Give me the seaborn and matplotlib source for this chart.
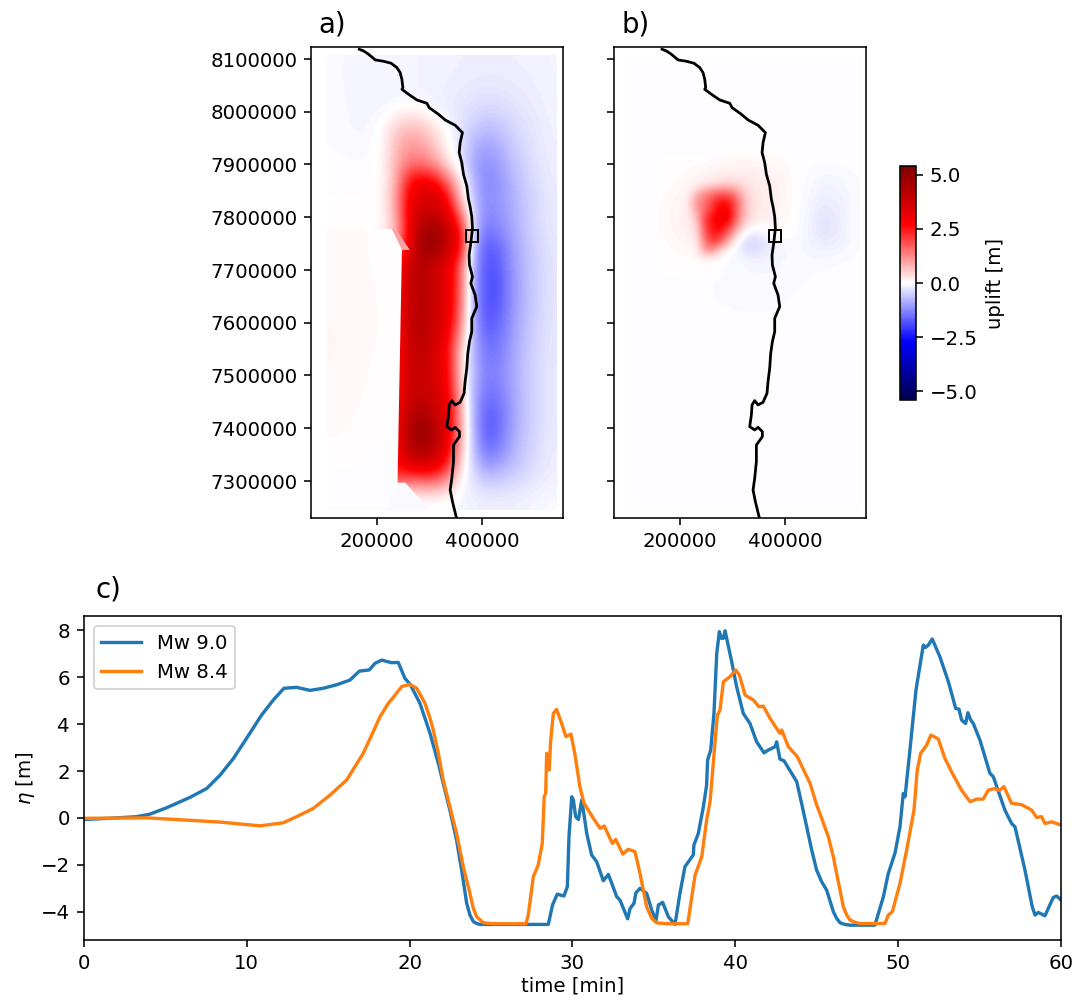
import numpy as np
import seaborn as sns
import matplotlib.pyplot as plt
from matplotlib.patches import Polygon

# Time series at the observation point
time_90 = [0, 1.82, 3.25, 4.07, 5.09, 6.52, 7.55, 8.37, 9.19, 10.0, 10.92, 11.64, 12.29, 13.07, 13.89, 14.71, 15.53, 16.35, 16.92, 17.53, 17.88, 18.29, 18.9, 19.31, 19.72, 20.03, 20.64, 21.26, 21.77, 22.07, 22.48, 22.89, 23.2, 23.51, 23.71, 23.92, 24.12, 24.32, 28.52, 28.78, 29.07, 29.48, 29.69, 29.79, 29.96, 30.06, 30.2, 30.37, 30.57, 30.67, 30.88, 31.18, 31.49, 31.9, 32.21, 32.72, 32.92, 33.39, 33.54, 33.78, 33.9, 34.15, 34.56, 34.87, 35.13, 35.28, 35.54, 35.89, 36.3, 36.6, 36.91, 37.42, 37.46, 37.73, 38.04, 38.24, 38.3, 38.49, 38.69, 38.86, 39.02, 39.14, 39.27, 39.37, 39.78, 40.08, 40.49, 40.9, 41.31, 41.76, 42.03, 42.44, 42.54, 42.74, 42.99, 43.77, 44.07, 44.38, 44.69, 44.99, 45.3, 45.61, 46.02, 46.22, 46.43, 46.73, 47.04, 48.57, 49.09, 49.39, 49.8, 50.11, 50.31, 50.42, 50.72, 51.09, 51.54, 51.68, 51.85, 52.09, 52.56, 53.08, 53.53, 53.73, 53.89, 54.14, 54.28, 54.45, 54.61, 55.02, 55.63, 55.84, 56.55, 56.96, 57.17, 57.78, 58.23, 58.4, 58.6, 59.01, 59.52, 59.73, 60]
eta_90 = [-0.07, -0.01, 0.05, 0.16, 0.43, 0.87, 1.25, 1.82, 2.53, 3.39, 4.38, 5.02, 5.52, 5.56, 5.43, 5.52, 5.67, 5.87, 6.25, 6.3, 6.58, 6.72, 6.61, 6.62, 5.94, 5.7, 4.88, 3.6, 2.32, 1.47, 0.33, -0.95, -2.22, -3.64, -4.14, -4.42, -4.5, -4.54, -4.54, -3.71, -3.25, -3.33, -2.93, -0.8, 0.9, 0.76, 0.05, -0.07, 0.76, 0.33, -0.66, -1.58, -1.87, -2.68, -2.41, -3.36, -3.5, -4.3, -3.86, -3.64, -3.19, -3.0, -3.22, -3.93, -4.38, -3.71, -3.6, -4.21, -4.54, -3.22, -2.08, -1.58, -1.16, -0.66, 0.47, 1.4, 2.46, 2.89, 4.45, 7.0, 7.93, 7.65, 7.65, 7.97, 6.65, 5.59, 4.45, 4.02, 3.24, 2.77, 2.89, 3.03, 3.24, 2.5, 2.43, 1.54, 0.62, -0.38, -1.37, -2.22, -2.72, -3.08, -4.0, -4.28, -4.47, -4.54, -4.57, -4.57, -3.36, -2.37, -1.51, -0.38, 1.04, 0.9, 2.89, 5.44, 7.36, 7.26, 7.36, 7.62, 6.86, 5.8, 4.66, 4.63, 4.17, 4.02, 4.48, 4.17, 4.02, 3.31, 1.9, 1.75, 0.33, -0.24, -0.38, -2.22, -3.79, -4.14, -4.03, -4.17, -3.39, -3.33, -3.5]

time_84 = [0, 3.87, 5.91, 8.37, 10.82, 12.25, 13.07, 14.09, 15.12, 16.14, 16.65, 17.16, 17.68, 18.19, 18.7, 19.0, 19.52, 20.03, 20.44, 20.95, 21.26, 21.46, 21.77, 22.07, 22.48, 22.89, 23.3, 23.71, 23.92, 24.12, 24.53, 25.14, 27.15, 27.29, 27.6, 27.9, 28.15, 28.27, 28.36, 28.42, 28.58, 28.66, 28.83, 29.03, 29.34, 29.6, 29.91, 30.16, 30.46, 30.71, 31.29, 31.7, 31.96, 32.45, 32.66, 33.09, 33.43, 33.84, 34.15, 34.56, 34.87, 35.17, 35.79, 37.08, 37.53, 37.94, 38.24, 38.45, 38.75, 38.9, 39.06, 39.27, 39.67, 40.02, 40.25, 40.6, 41.11, 41.45, 41.72, 42.13, 42.74, 42.85, 43.26, 43.81, 44.59, 44.99, 45.34, 45.71, 46.02, 46.22, 46.43, 46.63, 46.84, 47.04, 47.35, 47.65, 49.19, 49.39, 49.64, 50.11, 50.52, 50.97, 51.17, 51.38, 51.75, 52.01, 52.46, 52.87, 53.38, 53.89, 54.41, 54.82, 55.22, 55.53, 55.94, 56.21, 56.49, 56.96, 57.58, 58.19, 58.5, 58.8, 59.01, 59.42, 60]
eta_84 = [-0.02, 0.0, -0.08, -0.18, -0.34, -0.21, 0.05, 0.4, 0.97, 1.61, 2.18, 2.75, 3.53, 4.31, 4.88, 5.13, 5.59, 5.69, 5.52, 4.88, 4.24, 3.74, 2.75, 1.61, 0.47, -0.66, -2.08, -3.22, -3.86, -4.21, -4.47, -4.51, -4.51, -4.14, -2.51, -2.01, -1.09, 0.9, 1.04, 2.75, 2.04, 3.24, 4.45, 4.62, 4.02, 3.46, 3.57, 2.68, 1.33, 0.62, -0.02, -0.45, -0.35, -1.09, -0.92, -1.54, -1.34, -1.44, -2.37, -3.79, -4.28, -4.47, -4.51, -4.51, -2.44, -1.66, -0.09, 0.69, 3.17, 4.38, 4.59, 5.8, 6.01, 6.3, 6.08, 5.23, 5.02, 4.73, 4.76, 4.24, 3.6, 3.74, 3.03, 2.6, 1.47, 0.56, -0.09, -0.8, -1.66, -2.37, -3.08, -3.79, -4.14, -4.35, -4.45, -4.5, -4.5, -4.14, -4.0, -2.79, -1.37, 0.33, 2.04, 2.75, 3.1, 3.53, 3.36, 2.53, 1.82, 1.18, 0.69, 0.8, 0.8, 1.18, 1.25, 1.16, 1.33, 0.62, 0.56, 0.33, 0.02, 0.05, -0.24, -0.17, -0.31]

# Coastline and tide gauge, in km
coast_x = [166.4, 174.6, 184.1, 196.8, 212.6, 227.2, 237.9, 244.2, 247.4, 249.3, 247.4, 260.1, 275.9, 294.9, 299.3, 317.0, 329.7, 348.7, 362.6, 358.2, 356.3, 361.3, 364.5, 370.8, 374.0, 377.1, 380.3, 381.6, 378.4, 375.2, 375.9, 381.6, 378.4, 386.6, 389.8, 380.3, 380.3, 375.9, 372.7, 370.8, 367.6, 365.7, 358.1, 348.7, 342.3, 337.3, 336.0, 332.8, 342.3, 348.7, 356.9, 356.9, 345.5, 345.5, 342.3, 339.2, 343.6, 350.6]
coast_y = [8118.3, 8115.1, 8108.8, 8098.1, 8095.5, 8091.7, 8083.5, 8074.0, 8061.4, 8045.6, 8042.4, 8033.0, 8022.2, 8015.9, 8007.7, 7995.0, 7984.3, 7974.2, 7960.3, 7941.3, 7922.4, 7903.4, 7881.3, 7859.2, 7833.9, 7820.0, 7801.1, 7779.0, 7750.5, 7728.4, 7709.5, 7687.3, 7674.7, 7652.6, 7630.5, 7608.3, 7583.0, 7564.1, 7541.9, 7513.6, 7488.3, 7466.2, 7449.1, 7444.1, 7452.3, 7444.1, 7425.1, 7403.0, 7396.7, 7401.7, 7393.5, 7384.0, 7368.2, 7336.6, 7305.0, 7282.9, 7260.8, 7232.3]
gauge_x = 381
gauge_y = 7765

# Uplift Mw 9.0 [m], north to south
uplift_a = [
    [-.07, -.09, -.10, -.11, -.12, -.12, -.12, -.13, -.14, -.15, -.17, -.18, -.18, -.18, -.17, -.16, -.15, -.12],
    [-.07, -.09, -.10, -.11, -.12, -.12, -.12, -.13, -.15, -.17, -.19, -.21, -.22, -.22, -.20, -.18, -.16, -.13],
    [-.06, -.09, -.10, -.11, -.12, -.12, -.12, -.13, -.16, -.19, -.23, -.28, -.32, -.30, -.26, -.22, -.18, -.14],
    [-.06, -.08, -.10, -.10, -.06, .10, .20, .12, -.05, -.18, -.28, -.40, -.47, -.44, -.34, -.27, -.20, -.15],
    [-.05, -.08, -.09, -.08, .10, .60, .80, .70, .30, -.05, -.30, -.60, -.75, -.65, -.46, -.33, -.24, -.16],
    [-.04, -.06, -.07, -.05, .10, .80, 1.1, 1.0, .60, .05, -.30, -.80, -1.0, -.85, -.56, -.38, -.26, -.17],
    [-.02, -.03, -.04, -.02, .10, .90, 1.5, 1.5, 1.1, .30, -.25, -.95, -1.2, -1.0, -.70, -.46, -.30, -.18],
    [-.01, -.01, -.01, 0, .10, 1.0, 2.7, 3.0, 2.7, 1.5, .20, -.80, -1.3, -1.1, -.80, -.52, -.34, -.20],
    [0, 0, 0, 0, .10, 1.2, 3.0, 3.5, 3.5, 2.6, .50, -.70, -1.25, -1.1, -.85, -.58, -.38, -.22],
    [.02, .02, .01, .01, .10, 1.0, 3.2, 3.8, 3.9, 3.2, 1.5, -.60, -1.3, -1.15, -.90, -.60, -.38, -.22],
    [.04, .04, .03, .02, .10, .90, 3.0, 4.7, 4.9, 3.9, 2.6, -.70, -1.5, -1.3, -.95, -.64, -.42, -.24],
    [.05, .05, .04, .03, .08, 1.5, 3.2, 4.8, 4.7, 3.8, 2.6, -.90, -1.8, -1.6, -1.05, -.70, -.46, -.26],
    [.06, .06, .05, .03, 2.4, 2.6, 3.8, 4.2, 3.7, 3.2, 1.6, -1.0, -1.85, -1.7, -1.1, -.72, -.48, -.28],
    [.06, .06, .05, .03, 2.4, 2.6, 3.9, 4.3, 3.6, 3.2, 1.6, -1.0, -1.9, -1.8, -1.15, -.74, -.48, -.28],
    [.06, .06, .05, .03, 2.4, 2.6, 3.9, 4.3, 3.7, 3.2, 1.5, -1.0, -1.9, -1.75, -1.15, -.74, -.48, -.28],
    [.06, .05, .04, .02, 2.4, 2.6, 3.9, 4.3, 3.7, 3.1, 1.4, -1.0, -1.85, -1.65, -1.1, -.72, -.46, -.28],
    [.06, .05, .03, .02, 2.4, 2.6, 3.9, 4.2, 3.6, 2.9, 1.0, -.90, -1.7, -1.5, -1.05, -.68, -.44, -.26],
    [.05, .04, .03, .01, 2.4, 2.6, 3.8, 4.1, 3.5, 2.6, .50, -.85, -1.5, -1.4, -1.0, -.64, -.42, -.26],
    [.05, .04, .02, .01, 2.4, 2.6, 3.8, 3.9, 3.5, 2.7, .40, -.80, -1.4, -1.3, -.95, -.62, -.40, -.24],
    [.04, .03, .02, 0, 2.4, 2.6, 3.8, 3.8, 3.5, 2.8, .50, -.85, -1.4, -1.3, -.95, -.62, -.40, -.24],
    [.03, .02, .01, 0, 2.4, 2.6, 3.9, 4.0, 3.6, 2.9, .80, -.90, -1.6, -1.45, -1.0, -.64, -.40, -.24],
    [.02, .01, .01, 0, 2.4, 2.7, 4.3, 4.6, 4.0, 3.0, .90, -.90, -1.75, -1.55, -1.0, -.64, -.40, -.24],
    [.01, .01, 0, 0, 2.4, 2.7, 4.5, 4.9, 4.3, 3.1, .90, -.85, -1.75, -1.5, -.95, -.60, -.38, -.22],
    [0, 0, 0, 0, 2.4, 2.7, 4.2, 4.5, 3.9, 2.8, .60, -.70, -1.5, -1.3, -.85, -.55, -.35, -.20],
    [-.02, -.02, -.02, -.02, 2.4, 2.6, 3.0, 3.2, 3.0, 2.0, .30, -.50, -1.0, -.85, -.65, -.45, -.30, -.18],
    [-.03, -.04, -.05, -.06, 1.0, 1.5, 1.0, 1.1, 1.1, .70, -.05, -.25, -.45, -.42, -.38, -.28, -.19, -.12],
    [-.04, -.05, -.06, -.08, -.09, -.10, -.06, -.06, -.06, -.08, -.10, -.15, -.18, -.17, -.16, -.13, -.10, -.07],
]

# Weak far field west of the rupture edge, drawn clipped to west_x/west_y
uplift_west = [
    [.06, .05, .03, .02, .01],
    [.08, .07, .04, .02, .02],
    [.09, .07, .04, .02, .02],
    [.08, .05, .02, .01, .01],
    [.05, .03, .01, 0, 0],
    [-.03, -.03, -.04, -.05, -.06],
]
west_x = [105, 300, 253.8, 239.1, 247.5, 261.9, 235, 228.5, 105]
west_y = [7245, 7245, 7296.8, 7296.8, 7738, 7738, 7777.7, 7777.7, 7777.7]
# Pale streak at the top of the rupture edge
streak_x = [247.5, 261.9, 235, 228.5]
streak_y = [7738, 7738, 7777.7, 7777.7]
streak_value = 1.0

# Uplift Mw 8.4 [m], north to south
uplift_b_background = -0.01
uplift_b = [
    [0, 0, 0, 0, 0, .02, .04, .05, .06, .07, .07, .07, .06, .05, .04, .02, 0, -.01, -.02, -.02, -.02, -.02, -.01, -.01],
    [0, 0, .01, .04, .06, .08, .10, .12, .13, .14, .14, .13, .12, .10, .08, .05, 0, -.03, -.05, -.06, -.06, -.05, -.04, -.03],
    [0, .02, .05, .08, .10, .13, .15, .20, .22, .22, .20, .18, .16, .13, .10, .07, 0, -.04, -.07, -.09, -.09, -.08, -.06, -.04],
    [.01, .04, .07, .10, .15, .25, .35, .50, .55, .45, .30, .22, .18, .15, .11, .07, 0, -.05, -.09, -.12, -.12, -.11, -.08, -.05],
    [.03, .06, .09, .14, .60, 1.2, 1.5, 1.6, 1.5, 1.0, .45, .25, .20, .16, .12, .07, 0, -.06, -.11, -.15, -.15, -.13, -.09, -.05],
    [.04, .08, .11, .20, 1.2, 1.5, 2.0, 2.6, 2.4, 1.4, .55, .27, .20, .17, .12, .07, 0, -.07, -.14, -.20, -.19, -.16, -.10, -.05],
    [.05, .09, .12, .20, 1.0, 1.6, 2.3, 2.9, 2.6, 1.4, .55, .28, .20, .16, .12, .06, -.01, -.08, -.16, -.24, -.22, -.18, -.11, -.05],
    [.05, .09, .13, .20, .60, 2.1, 2.6, 3.1, 2.7, 1.3, .50, .25, .18, .14, .10, .05, -.02, -.09, -.18, -.27, -.25, -.19, -.11, -.05],
    [.05, .09, .12, .17, .40, 2.0, 2.6, 2.8, 2.0, .90, .25, .06, .03, .06, .06, .02, -.03, -.10, -.19, -.30, -.26, -.20, -.11, -.05],
    [.04, .08, .10, .14, .30, 1.7, 2.5, 2.2, 1.3, .30, -.15, -.20, -.12, -.03, 0, -.01, -.04, -.10, -.18, -.28, -.25, -.19, -.11, -.05],
    [.03, .06, .08, .11, .20, 1.4, 2.1, 1.4, .50, -.10, -.38, -.42, -.30, -.15, -.08, -.06, -.06, -.10, -.16, -.20, -.19, -.16, -.10, -.05],
    [.02, .03, .05, .07, .10, 1.0, 1.0, .20, 0, -.12, -.30, -.33, -.25, -.15, -.10, -.08, -.07, -.09, -.12, -.13, -.12, -.10, -.07, -.04],
    [0, 0, .02, .03, .05, .08, .08, 0, -.05, -.08, -.15, -.16, -.14, -.11, -.09, -.08, -.07, -.07, -.08, -.08, -.07, -.06, -.05, -.03],
    [0, 0, 0, 0, .01, .02, 0, -.03, -.05, -.06, -.08, -.09, -.09, -.09, -.08, -.07, -.06, -.06, -.05, -.05, -.04, -.03, -.02, -.02],
    [0, 0, 0, 0, 0, 0, -.02, -.05, -.06, -.07, -.08, -.08, -.08, -.08, -.08, -.07, -.06, -.05, -.04, -.03, -.02, -.02, -.01, -.01],
    [0, 0, 0, 0, 0, -.01, -.05, -.06, -.07, -.08, -.08, -.08, -.08, -.08, -.08, -.07, -.05, -.03, -.02, -.01, -.01, -.01, -.01, -.01],
    [-.01, -.01, -.01, -.01, -.01, -.01, -.05, -.07, -.08, -.08, -.08, -.08, -.08, -.08, -.08, -.06, -.04, -.02, -.01, -.01, -.01, -.01, -.01, -.01],
    [-.01, -.01, -.01, -.01, -.01, -.01, -.03, -.05, -.07, -.08, -.08, -.08, -.08, -.07, -.05, -.03, -.01, -.01, -.01, -.01, -.01, -.01, -.01, -.01],
    [-.01, -.01, -.01, -.01, -.01, -.01, -.01, -.02, -.03, -.05, -.06, -.06, -.06, -.05, -.03, -.02, -.01, -.01, -.01, -.01, -.01, -.01, -.01, -.01],
    [-.01, -.01, -.01, -.01, -.01, -.01, -.01, -.01, -.01, -.01, -.01, -.01, -.01, -.01, -.01, -.01, -.01, -.01, -.01, -.01, -.01, -.01, -.01, -.01],
]

y_ticks = [7300000, 7400000, 7500000, 7600000, 7700000, 7800000, 7900000, 8000000, 8100000]
x_ticks = [200000, 400000]
cbar_ticks = [-5, -2.5, 0, 2.5, 5]

W, H, DPI = 1076, 1002, 142
fig = plt.figure(figsize=((W + 0.1) / DPI, (H + 0.1) / DPI), dpi=DPI)


def axes_px(left, top, right, bottom):
    # axes position given in pixels from the top left of the figure
    return fig.add_axes([left / W, 1 - bottom / H, (right - left) / W, (bottom - top) / H])


palette = sns.color_palette('tab10')
field = dict(cmap='seismic', vmin=-5.4, vmax=5.4, aspect='auto', interpolation='bicubic',
             interpolation_stage='data')
km = 1000.0

ax_a = axes_px(311, 47.5, 563, 518)
ax_b = axes_px(613.7, 47.5, 866, 518)
ax_c = axes_px(83.7, 616, 1061, 939.7)

# panel a
im = ax_a.imshow(uplift_a, extent=[105 * km, 542 * km, 7245 * km, 8105.7 * km], **field)
im_west = ax_a.imshow(uplift_west, extent=[105 * km, 300 * km, 7245 * km, 7780 * km], **field)
west_edge = Polygon(np.column_stack([west_x, west_y]) * km, closed=True, transform=ax_a.transData)
im_west.set_clip_path(west_edge)
ax_a.add_patch(Polygon(np.column_stack([streak_x, streak_y]) * km, closed=True, lw=0,
                       facecolor=im.cmap(im.norm(streak_value))))

# panel b
ax_b.imshow([[uplift_b_background]], extent=[105 * km, 542 * km, 7245 * km, 8105.7 * km], **field)
ax_b.imshow(uplift_b, extent=[161 * km, 540.8 * km, 7600.4 * km, 7916.4 * km], **field)

for ax in (ax_a, ax_b):
    ax.plot(np.array(coast_x) * km, np.array(coast_y) * km, color='k', lw=1.4)
    ax.plot(gauge_x * km, gauge_y * km, 's', mfc='none', mec='k', ms=6.2, mew=1.0)
    ax.set_xlim(74700, 553800)
    ax.set_ylim(7229900, 8121800)
    ax.set_xticks(x_ticks)
    ax.set_yticks(y_ticks)
    ax.ticklabel_format(style='plain', useOffset=False)
ax_b.set_yticklabels([])

# colorbar
cax = axes_px(900, 166, 916, 400)
cbar = fig.colorbar(im, cax=cax, ticks=cbar_ticks)
cbar.set_label('uplift [m]')

# panel c
sns.lineplot(x=time_90, y=eta_90, ax=ax_c, color=palette[0], label='Mw 9.0', sort=False, errorbar=None, lw=1.7)
sns.lineplot(x=time_84, y=eta_84, ax=ax_c, color=palette[1], label='Mw 8.4', sort=False, errorbar=None, lw=1.7)
ax_c.set_xlim(0, 60)
ax_c.set_ylim(-5.19, 8.6)
ax_c.set_xlabel('time [min]', labelpad=2)
ax_c.set_ylabel(r'$\eta$ [m]', labelpad=2)
ax_c.legend(loc='upper left')

fig.text(318 / W, 1 - 32 / H, 'a)', fontsize=14)
fig.text(621 / W, 1 - 32 / H, 'b)', fontsize=14)
fig.text(95 / W, 1 - 597 / H, 'c)', fontsize=14)

plt.savefig('out.png', dpi=DPI)
